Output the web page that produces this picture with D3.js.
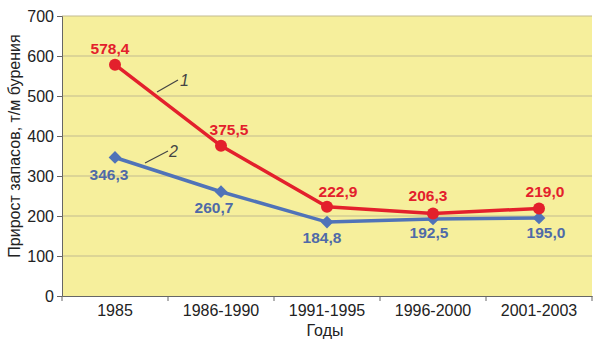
<!DOCTYPE html>
<html>
<head>
<meta charset="utf-8">
<script src="https://cdn.jsdelivr.net/npm/d3@7"></script>
<style>
  body { margin: 0; background: #fff; }
  text { font-family: "Liberation Sans", Arial, sans-serif; }
  .grid line { stroke: #c2bb90; stroke-width: 1; }
</style>
</head>
<body>
<div id="chart"></div>
<script>
var periods = ["1985", "1986-1990", "1991-1995", "1996-2000", "2001-2003"];
var series1 = [578.4, 375.5, 222.9, 206.3, 219.0];
var series2 = [346.3, 260.7, 184.8, 192.5, 195.0];
var yTicks = [0, 100, 200, 300, 400, 500, 600, 700];

function init() {
    var w = 598, h = 351;
    var left = 62, right = 592, top = 16, bottom = 296;

    var svg = d3.select("#chart").append("svg")
        .attr("width", w)
        .attr("height", h);

    var xScale = d3.scaleBand().domain(periods).range([left, right]);
    var yScale = d3.scaleLinear().domain([0, 700]).range([bottom, top]);
    var cx = function(d, i) { return xScale(periods[i]) + xScale.bandwidth() / 2; };

    // plot background
    svg.append("rect")
        .attr("x", left).attr("y", top)
        .attr("width", right - left).attr("height", bottom - top)
        .attr("fill", "#f6ef9c");

    // gridlines
    svg.append("g").attr("class", "grid")
        .selectAll("line").data(yTicks.slice(1))
        .enter().append("line")
        .attr("x1", left).attr("x2", right)
        .attr("y1", function(d) { return yScale(d); })
        .attr("y2", function(d) { return yScale(d); });

    // axes
    var yAxis = d3.axisLeft(yScale).tickValues(yTicks).tickSize(5).tickPadding(3);
    var gy = svg.append("g").attr("transform", "translate(" + left + ",0)").call(yAxis);
    gy.selectAll("text").attr("font-size", 16).attr("fill", "#222");
    gy.selectAll("line, path").attr("stroke", "#666");

    var xAxis = d3.axisBottom(xScale).tickSize(0).tickPadding(9);
    var gx = svg.append("g").attr("transform", "translate(0," + bottom + ")").call(xAxis);
    gx.select(".domain").attr("stroke", "#666");
    gx.selectAll("text").attr("font-size", 16).attr("fill", "#222");
    // boundary ticks between categories
    gx.selectAll(".sep").data(periods.concat(["end"]))
        .enter().append("line")
        .attr("x1", function(d, i) { return left + i * xScale.bandwidth(); })
        .attr("x2", function(d, i) { return left + i * xScale.bandwidth(); })
        .attr("y1", 0).attr("y2", 5)
        .attr("stroke", "#666");

    // lines
    var line = d3.line()
        .x(function(d, i) { return cx(d, i); })
        .y(function(d) { return yScale(d); });

    svg.append("path").datum(series2)
        .attr("d", line).attr("fill", "none")
        .attr("stroke", "#5073b8").attr("stroke-width", 3.5);
    svg.append("path").datum(series1)
        .attr("d", line).attr("fill", "none")
        .attr("stroke", "#e3202c").attr("stroke-width", 3.5);

    // markers
    svg.selectAll(".dia").data(series2).enter().append("rect")
        .attr("x", -4.5).attr("y", -4.5).attr("width", 9).attr("height", 9)
        .attr("transform", function(d, i) { return "translate(" + cx(d, i) + "," + yScale(d) + ") rotate(45)"; })
        .attr("fill", "#5073b8");
    svg.selectAll(".dot").data(series1).enter().append("circle")
        .attr("cx", cx).attr("cy", function(d) { return yScale(d); })
        .attr("r", 6).attr("fill", "#e3202c");

    var fmt = function(d) { return d.toFixed(1).replace(".", ","); };

    // value labels
    var off1 = [[-5, -11], [8, -11], [11, -10], [-5, -12], [6, -11]];
    svg.selectAll(".l1").data(series1).enter().append("text")
        .attr("x", function(d, i) { return cx(d, i) + off1[i][0]; })
        .attr("y", function(d, i) { return yScale(d) + off1[i][1]; })
        .attr("text-anchor", "middle")
        .attr("font-size", 15.5).attr("font-weight", "bold")
        .attr("fill", "#e3202c")
        .text(fmt);

    var off2 = [[-6, 23], [-7, 21], [-5, 21], [-4, 19], [7, 20]];
    svg.selectAll(".l2").data(series2).enter().append("text")
        .attr("x", function(d, i) { return cx(d, i) + off2[i][0]; })
        .attr("y", function(d, i) { return yScale(d) + off2[i][1]; })
        .attr("text-anchor", "middle")
        .attr("font-size", 15.5).attr("font-weight", "bold")
        .attr("fill", "#4f6aa8")
        .text(fmt);

    // series callouts
    svg.append("line").attr("x1", 157).attr("y1", 92).attr("x2", 178).attr("y2", 80)
        .attr("stroke", "#444").attr("stroke-width", 1.2);
    svg.append("text").attr("x", 180).attr("y", 86)
        .attr("font-size", 16).attr("font-style", "italic").attr("fill", "#444").text("1");
    svg.append("line").attr("x1", 145).attr("y1", 163).attr("x2", 168).attr("y2", 151)
        .attr("stroke", "#444").attr("stroke-width", 1.2);
    svg.append("text").attr("x", 169).attr("y", 157)
        .attr("font-size", 16).attr("font-style", "italic").attr("fill", "#444").text("2");

    // axis titles
    svg.append("text")
        .attr("transform", "translate(20,146) rotate(-90)")
        .attr("text-anchor", "middle")
        .attr("font-size", 16).attr("fill", "#222")
        .text("Прирост запасов, т/м бурения");
    svg.append("text")
        .attr("x", 325).attr("y", 336)
        .attr("text-anchor", "middle")
        .attr("font-size", 16).attr("fill", "#222")
        .text("Годы");
}
window.onload = init;
</script>
</body>
</html>
